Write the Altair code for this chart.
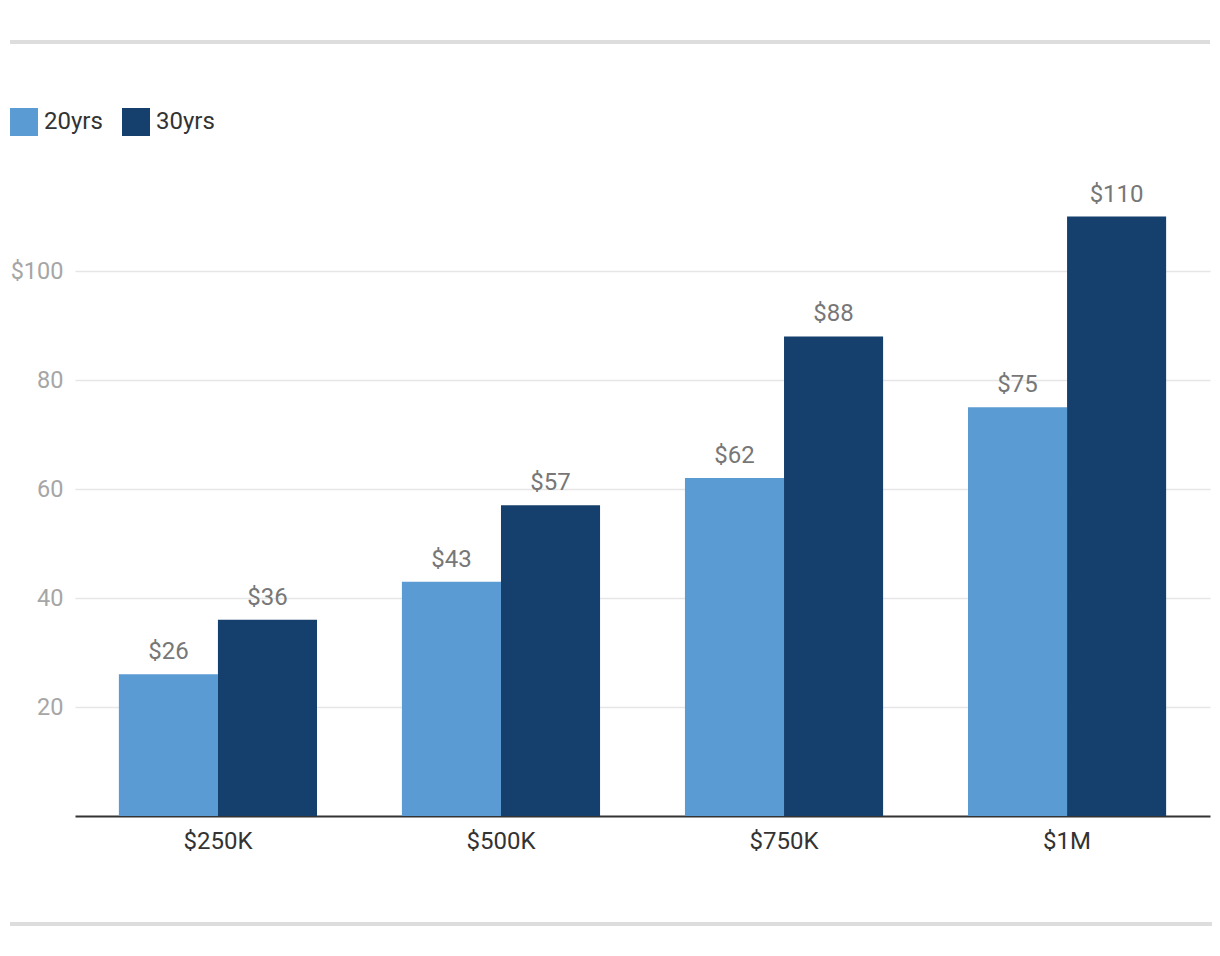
import altair as alt
import pandas as pd

categories = ["$250K", "$500K", "$750K", "$1M"]
series = ["20yrs", "30yrs"]
values_20 = [26, 43, 62, 75]
values_30 = [36, 57, 88, 110]
colors = ["#5b9bd3", "#153f6c"]
y_ticks = [20, 40, 60, 80, 100]

rows = []
for c, a, b in zip(categories, values_20, values_30):
    rows.append({"cat": c, "series": series[0], "value": a})
    rows.append({"cat": c, "series": series[1], "value": b})
df = pd.DataFrame(rows)

FONT = "Roboto"

x_enc = alt.X("cat:N", sort=categories, title=None,
              scale=alt.Scale(paddingInner=0.3, paddingOuter=0.155),
              axis=alt.Axis(labelAngle=0, labelFontSize=24, labelColor="#333333",
                            labelFont=FONT, ticks=False, domainColor="#333333",
                            domainWidth=2, labelPadding=13, grid=False))
y_enc = alt.Y("value:Q", title=None,
              scale=alt.Scale(domain=[0, 120], nice=False),
              axis=alt.Axis(values=y_ticks, labelFontSize=23.5, labelColor="#a6a6a6",
                            labelFont=FONT, ticks=False, domain=False, labelPadding=12,
                            gridColor="#e6e6e6", gridWidth=1.5,
                            labelExpr="datum.value == 100 ? '$100' : datum.label"))
xoff = alt.XOffset("series:N", sort=series, scale=alt.Scale(paddingInner=0, paddingOuter=0))

bars = alt.Chart(df).mark_bar().encode(
    x=x_enc, y=y_enc, xOffset=xoff,
    color=alt.Color("series:N", sort=series,
                    scale=alt.Scale(domain=series, range=colors),
                    legend=alt.Legend(title=None, orient="none", legendX=-65, legendY=-54,
                                      direction="horizontal", symbolType="square",
                                      symbolSize=784, symbolStrokeWidth=0,
                                      labelFontSize=24, labelFont=FONT, labelColor="#333333",
                                      labelOffset=6, columnPadding=19)),
)

labels = alt.Chart(df).transform_calculate(
    label="'$' + datum.value"
).mark_text(baseline="bottom", dy=-10, fontSize=24, font=FONT, color="#777777").encode(
    x=alt.X("cat:N", sort=categories), y="value:Q", xOffset=xoff, text="label:N"
)

top_line = alt.Chart(df).mark_rule(color="#dddddd", strokeWidth=4).encode(
    x=alt.value(-65), x2=alt.value(1135), y=alt.value(-120)
)
bottom_line = alt.Chart(df).mark_rule(color="#dddddd", strokeWidth=4).encode(
    x=alt.value(-65), x2=alt.value(1138), y=alt.value(762)
)

chart = alt.layer(bars, labels, top_line, bottom_line).properties(
    width=1135, height=654,
    autosize=alt.AutoSizeParams(type="none"),
    padding={"left": 67, "top": 154, "right": 2, "bottom": 132},
).configure(font=FONT).configure_view(strokeWidth=0, stroke=None)

chart.save("out.html", embed_options={"renderer": "svg", "actions": False})
